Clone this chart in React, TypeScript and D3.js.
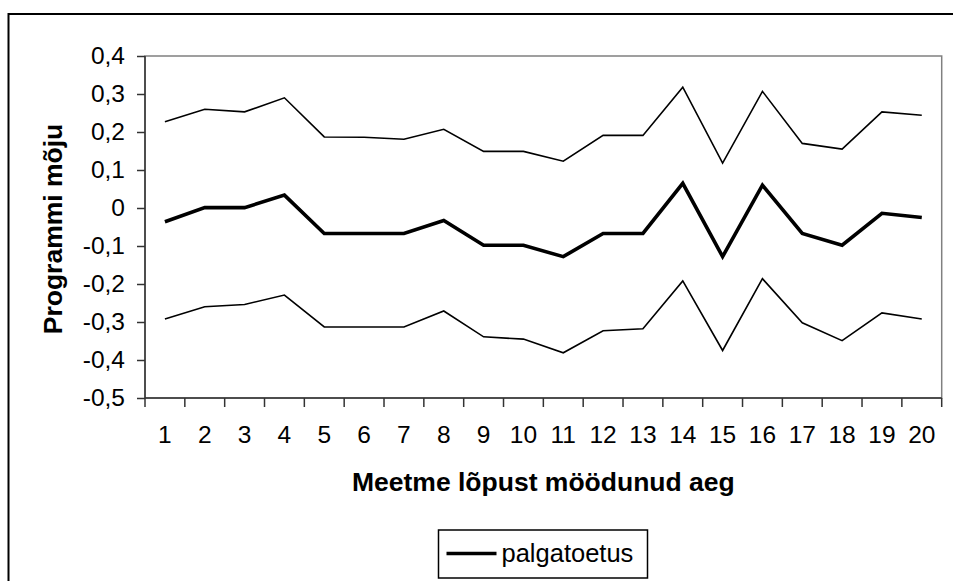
import React, { useEffect, useRef } from "react";
import * as d3 from "d3";

const periods = ["1", "2", "3", "4", "5", "6", "7", "8", "9", "10", "11", "12", "13", "14", "15", "16", "17", "18", "19", "20"];
const upperBound = [0.227, 0.26, 0.253, 0.29, 0.187, 0.186, 0.181, 0.207, 0.149, 0.149, 0.123, 0.191, 0.191, 0.318, 0.118, 0.307, 0.17, 0.155, 0.253, 0.244];
const palgatoetus = [-0.036, 0.001, 0.001, 0.034, -0.067, -0.067, -0.067, -0.033, -0.098, -0.098, -0.128, -0.067, -0.067, 0.065, -0.128, 0.06, -0.067, -0.098, -0.014, -0.025];
const lowerBound = [-0.292, -0.26, -0.254, -0.229, -0.313, -0.313, -0.313, -0.271, -0.339, -0.345, -0.381, -0.323, -0.318, -0.192, -0.375, -0.186, -0.302, -0.349, -0.276, -0.292];
const yTicks = [-0.5, -0.4, -0.3, -0.2, -0.1, 0, 0.1, 0.2, 0.3, 0.4];

const W = 953;
const H = 581;
const font = "Arial, 'Liberation Sans', sans-serif";

const App = () => {
  const ref = useRef<SVGSVGElement | null>(null);

  useEffect(() => {
    const svg = d3.select(ref.current);
    svg.selectAll("*").remove();

    const margin = { top: 56, right: 11.3, bottom: 183, left: 145 };

    const x = d3
      .scaleBand()
      .domain(periods)
      .range([margin.left, W - margin.right])
      .padding(0);

    const y = d3
      .scaleLinear()
      .domain([-0.5, 0.4])
      .range([H - margin.bottom, margin.top]);

    const fmt = (v: number) => String(Math.round(v * 10) / 10).replace(".", ",");

    svg.append("rect").attr("width", W).attr("height", H).attr("fill", "#fff");

    // outer frame (runs off right and bottom)
    svg
      .append("rect")
      .attr("x", 8.5)
      .attr("y", 14)
      .attr("width", W + 20)
      .attr("height", H + 20)
      .attr("fill", "none")
      .attr("stroke", "#000")
      .attr("stroke-width", 2);

    // plot area
    svg
      .append("rect")
      .attr("x", margin.left)
      .attr("y", margin.top)
      .attr("width", W - margin.right - margin.left)
      .attr("height", H - margin.bottom - margin.top)
      .attr("fill", "none")
      .attr("stroke", "#808080")
      .attr("stroke-width", 1.5);

    const yAxis = svg
      .append("g")
      .attr("transform", `translate(${margin.left},0)`)
      .call(d3.axisLeft(y).tickValues(yTicks).tickFormat((d) => fmt(+d)).tickSize(8).tickPadding(12));

    const xAxis = svg
      .append("g")
      .attr("transform", `translate(0,${H - margin.bottom})`)
      .call(d3.axisBottom(x).tickSize(0).tickPadding(28));

    [yAxis, xAxis].forEach((g) => {
      g.select(".domain").attr("stroke", "#333").attr("stroke-width", 1.5);
      g.selectAll(".tick line").attr("stroke", "#333").attr("stroke-width", 1.5);
      g.selectAll(".tick text")
        .attr("font-family", font)
        .attr("font-size", 24.5)
        .attr("fill", "#000");
    });
    yAxis.select(".domain").attr("d", `M0,${margin.top}V${H - margin.bottom}`);
    xAxis.select(".domain").attr("d", `M${margin.left},0H${W - margin.right}`);

    // category boundary ticks
    const bounds = periods.map((p) => x(p) as number).concat([W - margin.right]);
    xAxis
      .selectAll(".bound")
      .data(bounds)
      .enter()
      .append("line")
      .attr("x1", (d) => d)
      .attr("x2", (d) => d)
      .attr("y1", 0)
      .attr("y2", 9)
      .attr("stroke", "#333")
      .attr("stroke-width", 1.5);

    const line = d3
      .line<number>()
      .x((_, i) => (x(periods[i]) as number) + x.bandwidth() / 2)
      .y((d) => y(d));

    const series = [
      { values: upperBound, width: 1.6 },
      { values: lowerBound, width: 1.6 },
      { values: palgatoetus, width: 3.6 },
    ];
    series.forEach((s) => {
      svg
        .append("path")
        .attr("d", line(s.values))
        .attr("fill", "none")
        .attr("stroke", "#000")
        .attr("stroke-width", s.width)
        .attr("stroke-linejoin", "miter");
    });

    // axis titles
    svg
      .append("text")
      .attr("x", (margin.left + W - margin.right) / 2)
      .attr("y", 491)
      .attr("text-anchor", "middle")
      .attr("font-family", font)
      .attr("font-weight", "bold")
      .attr("font-size", 26.5)
      .text("Meetme lõpust möödunud aeg");

    svg
      .append("text")
      .attr("transform", `translate(62,${(margin.top + H - margin.bottom) / 2 + 2}) rotate(-90)`)
      .attr("text-anchor", "middle")
      .attr("font-family", font)
      .attr("font-weight", "bold")
      .attr("font-size", 26.5)
      .text("Programmi mõju");

    // legend
    const lg = svg.append("g").attr("transform", "translate(438.5,530)");
    lg.append("rect")
      .attr("width", 209)
      .attr("height", 48)
      .attr("fill", "#fff")
      .attr("stroke", "#000")
      .attr("stroke-width", 1.5);
    lg.append("line")
      .attr("x1", 8)
      .attr("x2", 58)
      .attr("y1", 23.5)
      .attr("y2", 23.5)
      .attr("stroke", "#000")
      .attr("stroke-width", 3.6);
    lg.append("text")
      .attr("x", 63)
      .attr("y", 32)
      .attr("font-family", font)
      .attr("font-size", 25.5)
      .text("palgatoetus");
  }, []);

  return (
    <svg
      ref={ref}
      width={W}
      height={H}
      style={{ position: "absolute", left: 0, top: 0, display: "block" }}
    />
  );
};

export default App;
